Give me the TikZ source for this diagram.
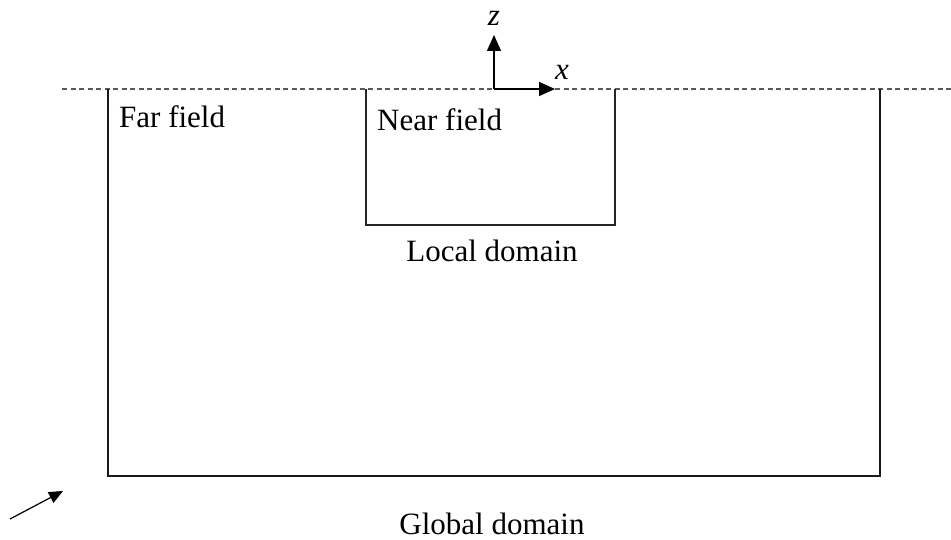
\documentclass[tikz,border=0pt]{standalone}
\usepackage{fontspec}
\setmainfont{Liberation Serif}
\usetikzlibrary{arrows.meta}
\begin{document}
\begin{tikzpicture}[x=1pt,y=-1pt,
  lbl/.style={font=\fontsize{31}{36}\selectfont, inner sep=0pt},
  axis/.style={line width=1.4pt, -{Triangle[length=16pt,width=14pt]}},
  surface/.style={dashed, gray!70!black, line width=1.3pt, dash pattern=on 5pt off 3.5pt},
  globalbox/.style={line width=2.6pt, black!90},
  localbox/.style={line width=1.3pt, black!85}]
\useasboundingbox (0,0) rectangle (951,540);
% surface
\coordinate (sl) at (62,89);
\coordinate (sr) at (951,89);
\draw[surface] (sl) -- (sr);
% global domain
\coordinate (g1) at (108,89);
\coordinate (g2) at (108,476);
\coordinate (g3) at (880,476);
\coordinate (g4) at (880,89);
\draw[globalbox] (g1) -- (g2) -- (g3) -- (g4);
% local domain
\coordinate (l1) at (366,89);
\coordinate (l2) at (366,225);
\coordinate (l3) at (615,225);
\coordinate (l4) at (615,89);
\draw[localbox] (l1) -- (l2) -- (l3) -- (l4);
% axes
\coordinate (o) at (494,89);
\coordinate (zt) at (494,35);
\coordinate (xt) at (555,89);
\draw[axis] (o) -- (zt);
\draw[axis] (o) -- (xt);
\node[lbl, font=\fontsize{31}{36}\selectfont\itshape] (zl) at (494,18) {z};
\node[lbl, font=\fontsize{31}{36}\selectfont\itshape] (xl) at (562,72) {x};
% labels
\node[lbl, anchor=west] (far) at (119,117) {Far field};
\node[lbl, anchor=west] (near) at (377,120) {Near field};
\node[lbl] (loc) at (492,251) {Local domain};
\node[lbl] (glob) at (492,524) {Global domain};
% small arrow
\coordinate (a1) at (10,519);
\coordinate (a2) at (63,491);
\draw[line width=1.2pt, -{Triangle[length=14pt,width=12pt]}] (a1) -- (a2);
\end{tikzpicture}
\end{document}
